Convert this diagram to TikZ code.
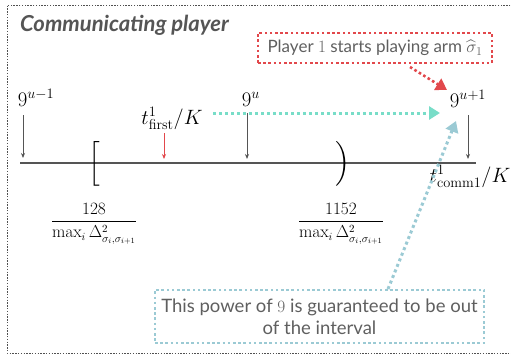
\documentclass[tikz,border=0pt]{standalone}
\usepackage{amsmath}
\usepackage[no-math]{fontspec}
\setmainfont{Lato}
\usetikzlibrary{arrows.meta}
\definecolor{framegray}{RGB}{80,80,80}
\definecolor{titlegray}{RGB}{85,85,85}
\definecolor{txtgray}{RGB}{95,95,95}
\definecolor{myred}{RGB}{226,72,76}
\definecolor{myteal}{RGB}{120,221,200}
\definecolor{myblue}{RGB}{155,202,212}
\definecolor{axisgray}{RGB}{85,85,85}
\begin{document}
\begin{tikzpicture}[x=1pt,y=-1pt,
  frame/.style={draw=framegray, line width=0.9pt, dash pattern=on 1.4pt off 1.4pt},
  redbox/.style={draw=myred, line width=2.6pt, dash pattern=on 2.6pt off 2.6pt, text=txtgray, font=\fontsize{17}{20}\selectfont, inner sep=0pt},
  bluebox/.style={draw=myblue, line width=2.6pt, dash pattern=on 2.6pt off 2.6pt, text=txtgray, font=\fontsize{18.5}{22}\selectfont, inner sep=0pt, align=center},
  lab/.style={font=\fontsize{21}{25}\selectfont, inner sep=0pt},
  fraclab/.style={font=\fontsize{16}{19}\selectfont, inner sep=0pt},
  tick/.style={draw=axisgray, line width=0.9pt, -{Stealth[length=5pt,width=4pt]}},
  redtick/.style={draw=myred, line width=0.9pt, -{Stealth[length=5pt,width=4pt]}},
  bigarrow/.style={line width=3pt, dash pattern=on 3pt off 3pt, -{Triangle[length=11pt,width=13pt]}},
  delim/.style={font=\fontsize{24}{28}\selectfont, inner sep=0pt}
]
\useasboundingbox (0,0) rectangle (511,356);
% frame
\draw[frame] (530,5) -- (7,5) -- (7,353) -- (530,353);
% title
\node[anchor=base west, text=titlegray, inner sep=0pt, font=\fontsize{22}{26}\selectfont\bfseries\itshape] (title) at (20,31) {Communicating player};
% boxes
\node[redbox, minimum width=234pt, minimum height=30pt] (rbox) at (375,48) {Player $1$ starts playing arm $\widehat{\sigma}_1$};
\node[bluebox, minimum width=329pt, minimum height=53pt] (bbox) at (319.5,316.5) {This power of $9$ is guaranteed to be out\\of the interval};
% axis
\coordinate (axL) at (20,163);
\coordinate (axR) at (476,163);
\draw[axisgray, line width=1.1pt] (axL) -- (axR);
% labels
\node[lab, anchor=base] (n9a) at (36,106) {$9^{u-1}$};
\node[lab, anchor=base] (n9b) at (251,106) {$9^{u}$};
\node[lab, anchor=base] (n9c) at (468,107) {$9^{u+1}$};
\node[lab, anchor=base] (tfirst) at (172,124) {$t^1_{\mathrm{first}}/K$};
\node[lab, anchor=base] (tcomm) at (470,182) {$t^1_{\mathrm{comm1}}/K$};
% ticks
\coordinate (ta1) at (23,115); \coordinate (ta2) at (23,158);
\coordinate (tb1) at (247,113); \coordinate (tb2) at (247,159);
\coordinate (tc1) at (468,115); \coordinate (tc2) at (468,159);
\coordinate (tr1) at (164,133); \coordinate (tr2) at (164,159);
\draw[tick] (ta1) -- (ta2);
\draw[tick] (tb1) -- (tb2);
\draw[tick] (tc1) -- (tc2);
\draw[redtick] (tr1) -- (tr2);
% delimiters
\node[delim] (lbr) at (94,164) {$\Big[$};
\node[delim] (rpar) at (343,164) {$\Big)$};
% fractions
\node[fraclab] (f1) at (94,224) {$\dfrac{128}{\max_i \Delta^2_{\sigma_i,\sigma_{i+1}}}$};
\node[fraclab] (f2) at (341,224) {$\dfrac{1152}{\max_i \Delta^2_{\sigma_i,\sigma_{i+1}}}$};
% arrows
\coordinate (tealS) at (213,113); \coordinate (tealE) at (440,113);
\draw[bigarrow, myteal] (tealS) -- (tealE);
\coordinate (redS) at (410,67); \coordinate (redE) at (447,90);
\draw[bigarrow, myred, line width=2.6pt, dash pattern=on 2.6pt off 2.6pt] (redS) -- (redE);
\coordinate (blueS) at (388,289); \coordinate (blueE) at (456,121);
\draw[bigarrow, myblue] (blueS) -- (blueE);
\end{tikzpicture}
\end{document}
